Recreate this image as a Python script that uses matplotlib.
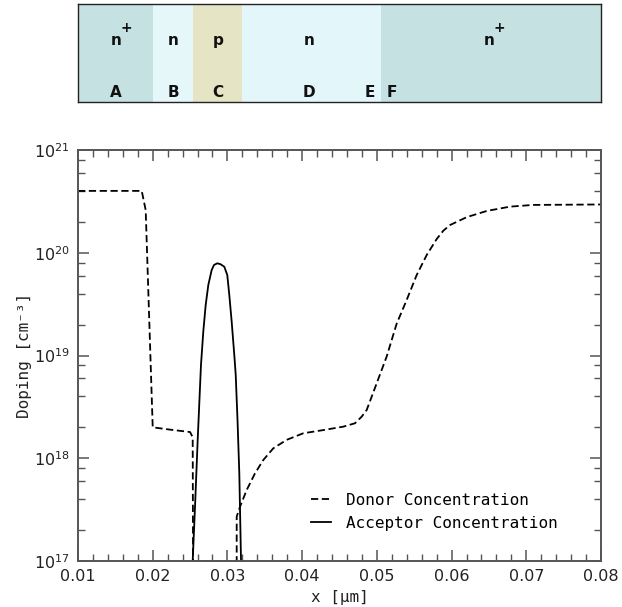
import matplotlib
matplotlib.use("Agg")
import matplotlib.pyplot as plt
import numpy as np

# ---- data ----
donor_x = [0.0100, 0.01853, 0.01906, 0.0200, 0.0223, 0.0250, 0.02535, 0.0254,
           0.03124, 0.03124, 0.03168, 0.03258, 0.03369, 0.03480, 0.03614, 0.03793,
           0.04015, 0.04283, 0.04551, 0.04707, 0.04797, 0.04864, 0.04998, 0.05132,
           0.05265, 0.05399, 0.05533, 0.05667, 0.05801, 0.05890, 0.05979, 0.06202,
           0.06470, 0.06782, 0.07090, 0.0800]
donor_n = [4.0e20, 4.0e20, 2.6e20, 2.0e18, 1.9e18, 1.8e18, 1.6e18, 1.0e17,
           1.0e17, 2.70e17, 3.37e17, 4.91e17, 7.13e17, 9.61e17, 1.25e18, 1.51e18,
           1.75e18, 1.88e18, 2.03e18, 2.19e18, 2.54e18, 2.95e18, 5.37e18, 9.8e18,
           2.04e19, 3.47e19, 6.07e19, 9.5e19, 1.36e20, 1.64e20, 1.86e20, 2.22e20,
           2.55e20, 2.81e20, 2.92e20, 2.95e20]

acc_x = [0.02535, 0.02566, 0.02602, 0.02646, 0.02677, 0.02709, 0.02744, 0.02789,
         0.02820, 0.02864, 0.02907, 0.02958, 0.02998, 0.03025, 0.03057, 0.03092,
         0.03111, 0.03135, 0.03159, 0.03182]
acc_n = [1.0e17, 3.36e17, 1.51e18, 8.09e18, 1.71e19, 3.10e19, 4.85e19, 6.79e19,
         7.60e19, 7.89e19, 7.74e19, 7.31e19, 6.07e19, 3.88e19, 2.13e19, 1.01e19,
         6.46e18, 2.35e18, 7.13e17, 1.0e17]

region_edges = [0.010, 0.020, 0.0254, 0.032, 0.0506, 0.080]
region_colors = ['#c6e1e1', '#e6f7fa', '#e5e5c6', '#e3f6fa', '#c6e1e1']
type_labels = ['n', 'n', 'p', 'n', 'n']
type_plus = [True, False, False, False, True]
type_x = [0.01508, 0.02271, 0.02874, 0.04092, 0.06500]
letter_labels = ['A', 'B', 'C', 'D', 'E', 'F']
letter_x = [0.01508, 0.02271, 0.02874, 0.04092, 0.04908, 0.05203]

fig = plt.figure(figsize=(6.22, 6.07), dpi=100)

# ---- top structure band ----
axb = fig.add_axes([78/622, 1-102/607, 523/622, 98/607])
for i, c in enumerate(region_colors):
    axb.axvspan(region_edges[i], region_edges[i+1], color=c, lw=0)
axb.set_xlim(0.01, 0.08)
axb.set_ylim(0, 1)
axb.set_xticks([]); axb.set_yticks([])
for s in axb.spines.values():
    s.set_linewidth(1.0); s.set_color('#222222')
band_font = dict(family=['DejaVu Sans'], fontweight='bold',
                 fontsize=11, ha='center', va='center', color='#111111')
for t, x, plus in zip(type_labels, type_x, type_plus):
    axb.text(x, 0.63, t, **band_font)
    if plus:
        axb.text(x + 0.00062, 0.75, '+', **{**band_font, 'fontsize': 10, 'ha': 'left'})
for t, x in zip(letter_labels, letter_x):
    axb.text(x, 0.10, t, **band_font)

# ---- main plot ----
ax = fig.add_axes([78/622, 1-561/607, 523/622, 411/607])
ax.plot(donor_x, donor_n, color='black', lw=1.3, linestyle=(0, (4, 2)),
        label='Donor Concentration')
ax.plot(acc_x, acc_n, color='black', lw=1.3, label='Acceptor Concentration')
ax.set_yscale('log')
ax.set_xlim(0.01, 0.08)
ax.set_ylim(1e17, 1e21)
ax.set_xticks([0.01, 0.02, 0.03, 0.04, 0.05, 0.06, 0.07, 0.08])
ax.set_xticklabels(['0.01', '0.02', '0.03', '0.04', '0.05', '0.06', '0.07', '0.08'])
ax.xaxis.set_minor_locator(matplotlib.ticker.MultipleLocator(0.002))
ax.yaxis.set_major_locator(matplotlib.ticker.LogLocator(base=10, numticks=10))
ax.yaxis.set_minor_locator(matplotlib.ticker.LogLocator(base=10, subs=[2, 4, 6, 8], numticks=10))
ax.yaxis.set_minor_formatter(matplotlib.ticker.NullFormatter())
ax.tick_params(which='both', direction='in', top=True, right=True, color='#555555',
               labelsize=11.5, labelcolor='#222222')
ax.tick_params(which='major', length=8, width=1.1, pad=6)
ax.tick_params(which='minor', length=5, width=1.0)
for s in ax.spines.values():
    s.set_color('#555555'); s.set_linewidth(1.4)

mono = ['DejaVu Sans Mono', 'DejaVu Sans']
ax.set_xlabel('x [µm]', family=mono, fontsize=11.5, color='#222222', labelpad=4)
ax.set_ylabel('Doping [cm⁻³]', family=mono, fontsize=11.5, color='#222222', labelpad=1)

leg = ax.legend(loc='center left', bbox_to_anchor=(0.445, 0.12), frameon=False,
                handlelength=1.3, handletextpad=0.9, borderpad=0, borderaxespad=0,
                labelspacing=0.5, prop={'family': mono, 'size': 11.5})

fig.savefig('out.png', dpi=100)
